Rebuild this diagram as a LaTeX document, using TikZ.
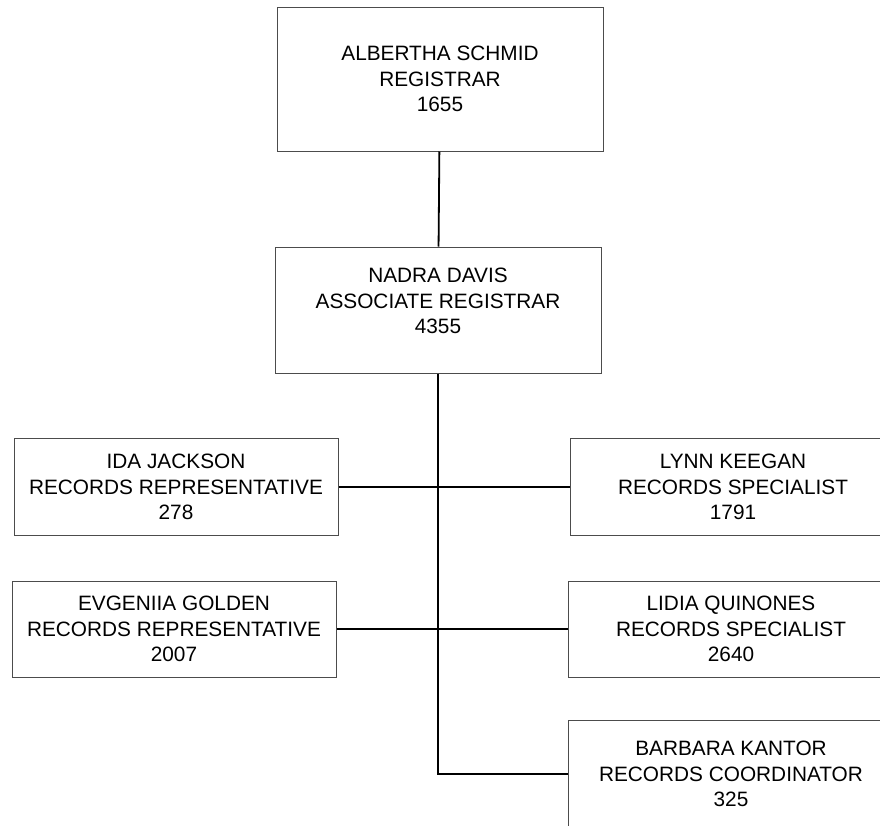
\documentclass[tikz,border=0pt]{standalone}
\usepackage{fontspec}
\setmainfont{Liberation Sans}
\definecolor{boxedge}{rgb}{0.3, 0.3, 0.3}

\begin{document}
\begin{tikzpicture}[x=1pt,y=-1pt,
    box/.style={rectangle,draw=boxedge,line width=1pt,minimum width=326pt,inner sep=0pt,align=center,font=\fontsize{20.8}{25.5}\selectfont},
    link/.style={black,line width=1.8pt}]
    % Frame
    \useasboundingbox (0,0) rectangle (880,825);
    \clip (0,0) rectangle (880,825);
    % Boxes
    \node[box,minimum height=144pt] (schmid) at (440,79) {ALBERTHA SCHMID\\REGISTRAR\\1655};
    \node[box,minimum height=126pt] (davis) at (438,310) {NADRA DAVIS\\ASSOCIATE REGISTRAR\\4355\rule[-18pt]{0pt}{0pt}};
    \node[box,minimum width=324pt,minimum height=97pt] (jackson) at (176,487) {IDA JACKSON\\RECORDS REPRESENTATIVE\\278};
    \node[box,minimum width=324pt,minimum height=96pt] (golden) at (174,629) {EVGENIIA GOLDEN\\RECORDS REPRESENTATIVE\\2007};
    \node[box,minimum height=97pt] (keegan) at (733,487) {LYNN KEEGAN\\RECORDS SPECIALIST\\1791};
    \node[box,minimum height=96pt] (quinones) at (731,629) {LIDIA QUINONES\\RECORDS SPECIALIST\\2640};
    \node[box,minimum height=108pt] (kantor) at (731,774) {BARBARA KANTOR\\RECORDS COORDINATOR\\325};
    % Lines
    \draw[link] (schmid) -- (davis);
    \draw[link] (davis.south) |- (kantor.west);
    \draw[link] (jackson) -- (keegan);
    \draw[link] (golden) -- (quinones);
\end{tikzpicture}
\end{document}
